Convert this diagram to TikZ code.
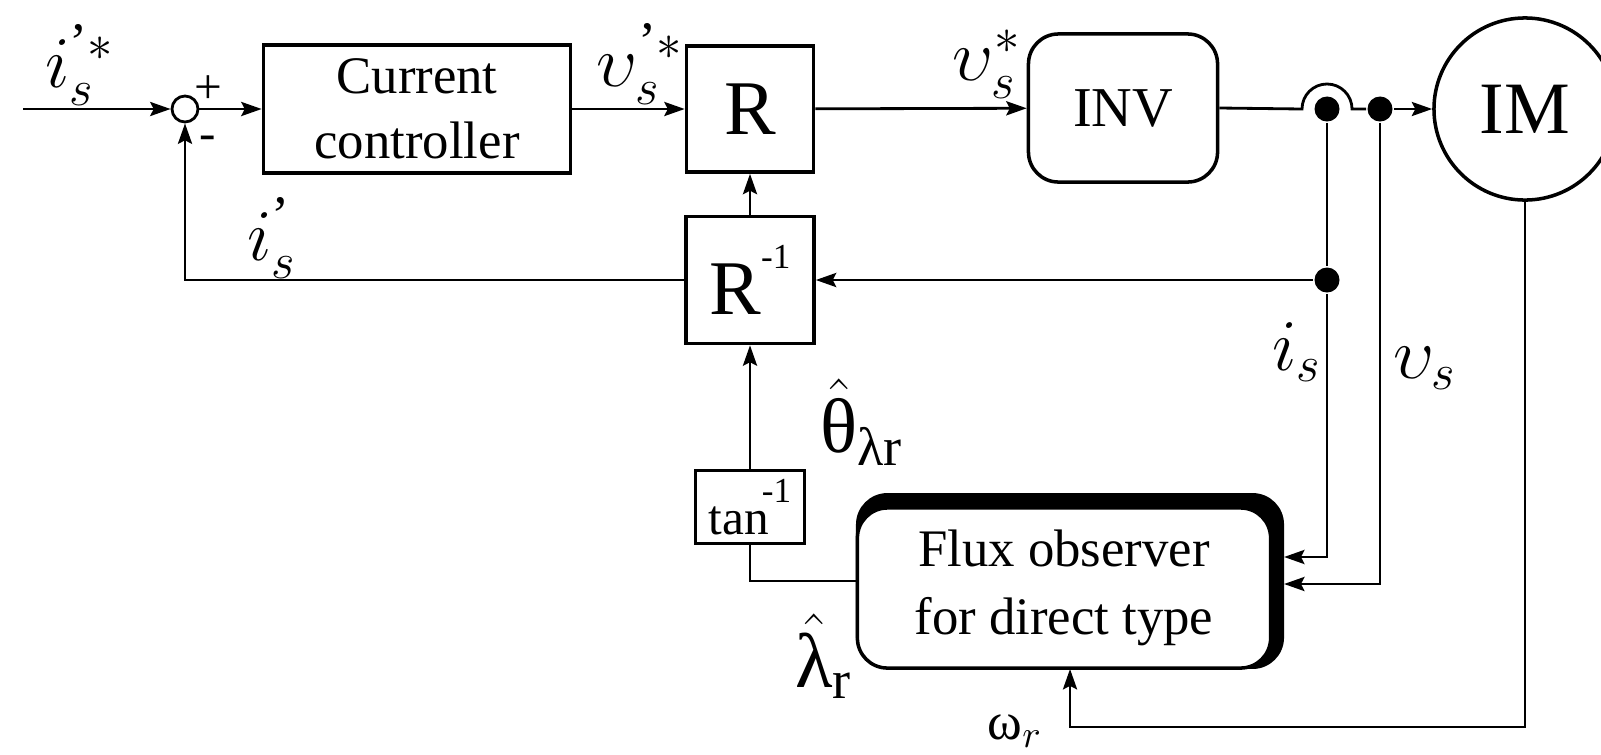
\documentclass[tikz,border=0pt]{standalone}
\usepackage{amsmath}
\usepackage{fontspec}
\setmainfont{Liberation Serif}
\usetikzlibrary{arrows.meta}

\newcommand{\txu}[1]{\text{\upshape #1}}
\newcommand{\supm}[1]{\raisebox{#1}{\fontsize{10}{10}\selectfont -1}}

\begin{document}
\begin{tikzpicture}[x=0.01cm, y=-0.01cm, line width=0.8pt,
    arr/.style={-{Stealth[length=5.8pt, width=4pt, inset=1pt]}},
    block/.style={draw, line width=1pt, inner sep=0pt, align=center},
    dot/.style={circle, fill, inner sep=0pt, minimum size=0.25cm},
    lbl/.style={inner sep=0pt, font=\fontsize{22}{26}\selectfont},
    sign/.style={inner sep=0pt, font=\fontsize{14}{16}\selectfont}]

    \useasboundingbox (0,0) rectangle (1601,754);

    % Summing junction and forward blocks
    \coordinate (in) at (23,109);
    \node[circle, draw, inner sep=0pt, minimum size=0.26cm] (sum) at (185,109) {};
    \node[block, minimum width=3.07cm, minimum height=1.28cm,
          font=\fontsize{15}{18.5}\selectfont] (cc) at (417,109) {Current\\controller};
    \node[block, minimum width=1.27cm, minimum height=1.26cm,
          font=\fontsize{22}{26}\selectfont] (rot) at (750,109) {R};
    \node[block, rounded corners=0.3cm, minimum width=1.89cm, minimum height=1.48cm,
          font=\fontsize{16}{19}\selectfont] (inv) at (1123,108) {INV};
    \node[circle, draw, line width=1pt, minimum size=1.82cm,
          font=\fontsize{21}{25}\selectfont] (im) at (1525,109) {IM};

    % Feedback blocks
    \node[block, minimum width=1.28cm, minimum height=1.27cm,
          font=\fontsize{22}{26}\selectfont] (rinv) at (750,280) {R\supm{13pt}};
    \node[block, minimum width=1.09cm, minimum height=0.73cm,
          font=\fontsize{14}{16}\selectfont] (atan) at (750,507) {tan\hspace{-2pt}\supm{9pt}};

    % Flux observer (thick shadow on top and right)
    \node[draw, fill=black, rounded corners=0.3cm, minimum width=4.25cm,
          minimum height=1.73cm] (obs) at (1070,581) {};
    \node[block, fill=white, rounded corners=0.3cm, minimum width=4.13cm, minimum height=1.60cm,
          font=\fontsize{15}{19.3}\selectfont] (obsin) at (1064,588) {Flux observer\\for direct type};

    % Branch points
    \node[dot] (tapI) at (1327,109) {};
    \node[dot] (tapV) at (1380,109) {};
    \node[dot] (tapIfb) at (1327,280) {};
    \coordinate (wr) at (1525,727);

    % Forward path
    \draw[arr] (in) -- (sum);
    \draw[arr] (sum) -- (cc);
    \draw[arr] (cc) -- (rot);
    \draw[arr] (rot) -- (inv);
    \draw (inv.east) -- ([xshift=-0.25cm]tapI.center)
        arc[start angle=180, end angle=0, radius=0.25cm] -- (tapV);
    \draw[arr] (tapV) -- (im);

    % Measurements into the observer
    \draw (tapI) -- (tapIfb);
    \draw[arr] (tapIfb) |- ([yshift=0.24cm]obs.east);
    \draw[arr] (tapV) |- ([yshift=-0.03cm]obs.east);
    \draw[arr] (im) -- (wr) -| (obs);

    % Rotation and current feedback
    \draw[arr] (tapIfb) -- (rinv);
    \draw[arr] (rinv) -- (rot);
    \draw[arr] (rinv) -| (sum);
    \draw[arr] (atan) -- (rinv);
    \draw (obs) -| (atan);

    % Signal labels
    \node[lbl] (lisref) at (80,65) {$i_s^{\text{’}\ast}$};
    \node[sign] (lplus) at (208,90) {+};
    \node[sign] (lminus) at (208,143) {-};
    \node[lbl] (lvsref) at (640,64) {$\upsilon_s^{\text{’}\ast}$};
    \node[lbl] (lvs) at (987,64) {$\upsilon_s^{\ast}$};
    \node[lbl] (lisrot) at (272,238) {$i_s^{\text{’}}$};
    \node[lbl] (lis) at (1297,352) {$i_s$};
    \node[lbl] (lvsm) at (1425,368) {$\upsilon_s$};
    \node[lbl] (ltheta) at (862,422) {$\hat{\txu{θ}}_{\txu{λr}}$};
    \node[lbl] (llambda) at (824,656) {$\hat{\txu{λ}}_{\txu{r}}$};
    \node[inner sep=0pt, font=\fontsize{15}{17}\selectfont] (lomega) at (1015,731) {$\txu{ω}_{r}$};
\end{tikzpicture}
\end{document}
